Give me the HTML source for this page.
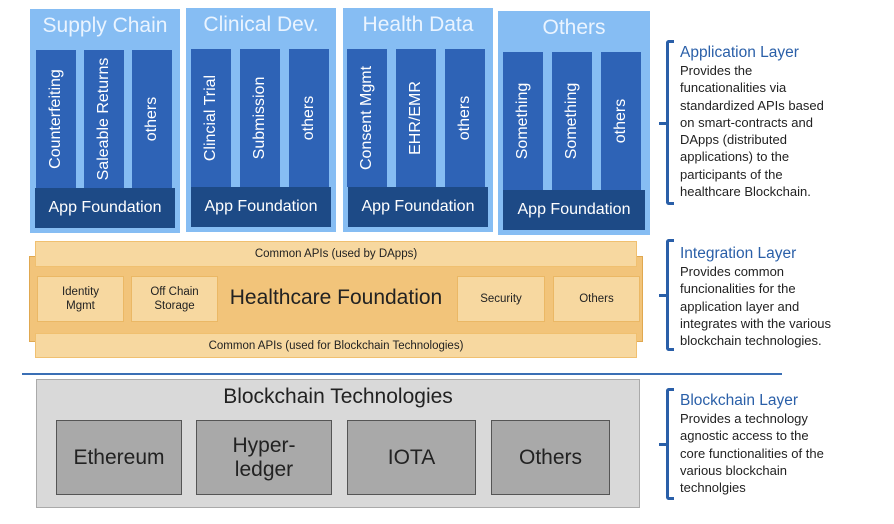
<!DOCTYPE html>
<html><head><meta charset="utf-8"><style>
body{margin:0;width:894px;height:524px;background:#fff;position:relative;overflow:hidden;font-family:"Liberation Sans",sans-serif}
div{position:absolute;box-sizing:border-box}
.p{background:#86bdf3}
.pt{color:#eaf4ff;font-size:21px;text-align:center;width:100%;top:5px}
.c{background:#2e63b6;top:41px;width:40px;height:138px}
.c span{position:absolute;left:50%;top:50%;transform:translate(-50%,-50%) rotate(-90deg);white-space:nowrap;color:#fff;font-size:16px}
.f{background:#1d4a86;color:#fff;font-size:16px;text-align:center;line-height:40px;left:5px;right:5px;top:179px;height:40px}
.o{background:#f7d8a0;border:1px solid #f0c070;font-size:11.5px;color:#222;text-align:center}
.ob{background:#f7d8a0;border:1px solid #ebb865;font-size:11.5px;color:#222;text-align:center;display:flex;align-items:center;justify-content:center;line-height:14px;top:276px;height:46px}
.g{background:#a9a9a9;border:1.5px solid #555;color:#222;font-size:21px;text-align:center;display:flex;align-items:center;justify-content:center;line-height:24px;top:420px;height:75px}
.br{border:3px solid #2a5fa8;border-right:none;width:8px;left:666px;border-radius:3px 0 0 3px}
.nb{position:absolute;left:-10px;top:50%;width:9px;height:3px;background:#2a5fa8;margin-top:-1px}
.t{left:680px;font-size:13px;line-height:17.3px;color:#222}
.t b{font-weight:normal;color:#2a5fa8;font-size:15.5px;display:block;line-height:19px}
</style></head><body>

<div class="p" style="left:30px;top:9px;width:150px;height:224px"><div class="pt">Supply Chain</div>
<div class="c" style="left:6px"><span>Counterfeiting</span></div><div class="c" style="left:54px"><span>Saleable Returns</span></div><div class="c" style="left:102px"><span>others</span></div>
<div class="f">App Foundation</div></div>

<div class="p" style="left:186px;top:8px;width:150px;height:224px"><div class="pt">Clinical Dev.</div>
<div class="c" style="left:5px"><span>Clincial Trial</span></div><div class="c" style="left:54px"><span>Submission</span></div><div class="c" style="left:103px"><span>others</span></div>
<div class="f">App Foundation</div></div>

<div class="p" style="left:343px;top:8px;width:150px;height:224px"><div class="pt">Health Data</div>
<div class="c" style="left:4px"><span>Consent Mgmt</span></div><div class="c" style="left:53px"><span>EHR/EMR</span></div><div class="c" style="left:102px"><span>others</span></div>
<div class="f">App Foundation</div></div>

<div class="p" style="left:498px;top:11px;width:152px;height:224px"><div class="pt">Others</div>
<div class="c" style="left:5px"><span>Something</span></div><div class="c" style="left:54px"><span>Something</span></div><div class="c" style="left:103px"><span>others</span></div>
<div class="f">App Foundation</div></div>

<div style="left:29px;top:256px;width:614px;height:86px;background:#f2c47a;border:1px solid #e0a850"></div>
<div class="o" style="left:35px;top:241px;width:602px;height:26px;line-height:25px">Common APIs (used by DApps)</div>
<div class="o" style="left:35px;top:333px;width:602px;height:25px;line-height:24px">Common APIs (used for Blockchain Technologies)</div>
<div class="ob" style="left:37px;width:87px">Identity<br>Mgmt</div>
<div class="ob" style="left:131px;width:87px">Off Chain<br>Storage</div>
<div style="left:220px;top:286px;width:232px;text-align:center;font-size:21px;color:#222">Healthcare Foundation</div>
<div class="ob" style="left:457px;width:88px">Security</div>
<div class="ob" style="left:553px;width:87px">Others</div>

<div style="left:22px;top:373px;width:760px;height:2px;background:#3a6fb5"></div>
<div style="left:36px;top:379px;width:604px;height:129px;background:#d9d9d9;border:1px solid #aaa"></div>
<div style="left:36px;top:385px;width:604px;text-align:center;font-size:21px;color:#222">Blockchain Technologies</div>
<div class="g" style="left:56px;width:126px">Ethereum</div>
<div class="g" style="left:196px;width:136px">Hyper-<br>ledger</div>
<div class="g" style="left:347px;width:129px">IOTA</div>
<div class="g" style="left:491px;width:119px">Others</div>

<div class="br" style="top:40px;height:165px"><div class="nb"></div></div>
<div class="t" style="top:43px"><b>Application Layer</b>Provides the<br>funcationalities via<br>standardized APIs based<br>on smart-contracts and<br>DApps (distributed<br>applications) to the<br>participants of the<br>healthcare Blockchain.</div>
<div class="br" style="top:239px;height:112px"><div class="nb"></div></div>
<div class="t" style="top:244px"><b>Integration Layer</b>Provides common<br>funcionalities for the<br>application layer and<br>integrates with the various<br>blockchain technologies.</div>
<div class="br" style="top:388px;height:112px"><div class="nb"></div></div>
<div class="t" style="top:391px"><b>Blockchain Layer</b>Provides a technology<br>agnostic access to the<br>core functionalities of the<br>various blockchain<br>technolgies</div>
</body></html>
